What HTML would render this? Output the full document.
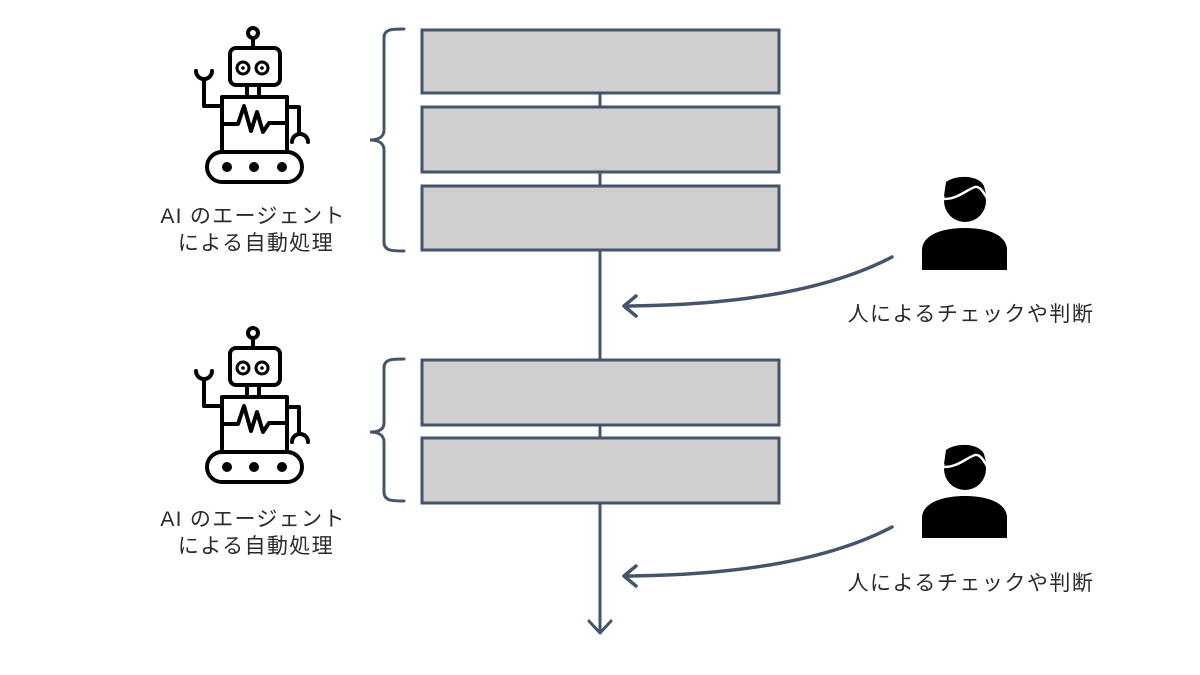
<!DOCTYPE html>
<html>
<head>
<meta charset="utf-8">
<style>
html,body{margin:0;padding:0;background:#fff;}
svg{display:block;}
text{font-family:"Liberation Sans","Noto Sans CJK JP",sans-serif;fill:#2a2a2a;font-size:21px;}
</style>
</head>
<body>
<svg width="1200" height="675" viewBox="0 0 1200 675" xmlns="http://www.w3.org/2000/svg">
<rect width="1200" height="675" fill="#fff"/>
<defs>
  <g id="robot" fill="none" stroke="#000" stroke-width="4" stroke-linecap="round" stroke-linejoin="round">
    <circle cx="253" cy="33" r="5"/>
    <line x1="253" y1="38" x2="253" y2="48"/>
    <rect x="230" y="48" width="50" height="37" rx="6"/>
    <circle cx="243" cy="68" r="6" stroke-width="3"/>
    <circle cx="262" cy="68" r="6" stroke-width="3"/>
    <circle cx="243" cy="68" r="1.8" fill="#000" stroke="none"/>
    <circle cx="262" cy="68" r="1.8" fill="#000" stroke="none"/>
    <line x1="247" y1="85" x2="247" y2="97"/>
    <line x1="259" y1="85" x2="259" y2="97"/>
    <rect x="222" y="97" width="65" height="55"/>
    <polyline points="222,124 238,124 244,106 251,131 257,112 263,132 269,123 287,123"/>
    <rect x="207" y="152" width="95" height="30" rx="15"/>
    <circle cx="227" cy="167" r="3" fill="#000"/>
    <circle cx="254" cy="167" r="3" fill="#000"/>
    <circle cx="282" cy="167" r="3" fill="#000"/>
    <polyline points="222,106 204,106 204,80"/>
    <path d="M196,71 A8,8 0 0 0 212,71"/>
    <polyline points="287,107 299,107 299,133"/>
    <path d="M292,142 A8,8 0 0 1 308,142"/>
  </g>
  <g id="person">
    <path d="M922,270 V250 C922,236 940,228 965,228 C990,228 1007,236 1007,250 V270 Z" fill="#000"/>
    <circle cx="965" cy="201" r="21" fill="#000"/>
    <path d="M946,182 C955,175 978,174 984,186 L986,194 L944,196 Z" fill="#000"/>
    <path d="M944,199 C958,199 966,190 975,187 C980,186 984,193 987,198" fill="none" stroke="#fff" stroke-width="2.5"/>
  </g>
</defs>

<!-- main vertical flow line -->
<g stroke="#44546A" stroke-width="3" fill="none">
  <line x1="600" y1="93" x2="600" y2="107"/>
  <line x1="600" y1="172" x2="600" y2="185"/>
  <line x1="600" y1="250" x2="600" y2="360"/>
  <line x1="600" y1="425" x2="600" y2="438"/>
  <line x1="600" y1="503" x2="600" y2="633"/>
  <polyline points="589,621 600,633 611,621" stroke-linejoin="round" stroke-linecap="round"/>
</g>

<!-- boxes -->
<g fill="#D0CECE" stroke="#44546A" stroke-width="3">
  <rect x="422" y="30" width="357" height="63"/>
  <rect x="422" y="107" width="357" height="65"/>
  <rect x="422" y="186" width="357" height="64"/>
  <rect x="422" y="360" width="357" height="65"/>
  <rect x="422" y="438" width="357" height="65"/>
</g>

<!-- brackets -->
<g fill="none" stroke="#44546A" stroke-width="3" stroke-linecap="round">
  <path d="M404,29 C392,29 384,29 384,38 L384,130 C384,137 378,140 370,140 C378,140 384,143 384,150 L384,242 C384,251 392,251 404,251"/>
  <path d="M404,359 C392,359 384,359 384,368 L384,423 C384,430 378,432 370,432 C378,432 384,435 384,442 L384,492 C384,501 392,501 404,501"/>
</g>

<!-- curved arrows -->
<g fill="none" stroke="#44546A" stroke-width="3.5" stroke-linecap="round" stroke-linejoin="round">
  <path d="M892,257 Q800,305 625,306"/>
  <polyline points="636,296 624,306 636,316"/>
  <path d="M892,527 Q800,575 625,576"/>
  <polyline points="636,566 624,576 636,586"/>
</g>

<!-- robots -->
<use href="#robot"/>
<use href="#robot" transform="translate(0,300)"/>

<!-- persons -->
<use href="#person"/>
<use href="#person" transform="translate(0,268)"/>

<!-- labels -->
<text x="253" y="223" text-anchor="middle" font-size="21" letter-spacing="1.3">AI のエージェント</text>
<text x="256" y="250" text-anchor="middle" font-size="21" letter-spacing="1.4">による自動処理</text>
<text x="253" y="526" text-anchor="middle" font-size="21" letter-spacing="1.3">AI のエージェント</text>
<text x="256" y="553" text-anchor="middle" font-size="21" letter-spacing="1.4">による自動処理</text>
<text x="971" y="321" text-anchor="middle" font-size="22" letter-spacing="1.5">人によるチェックや判断</text>
<text x="971" y="590" text-anchor="middle" font-size="22" letter-spacing="1.5">人によるチェックや判断</text>
</svg>
</body>
</html>
